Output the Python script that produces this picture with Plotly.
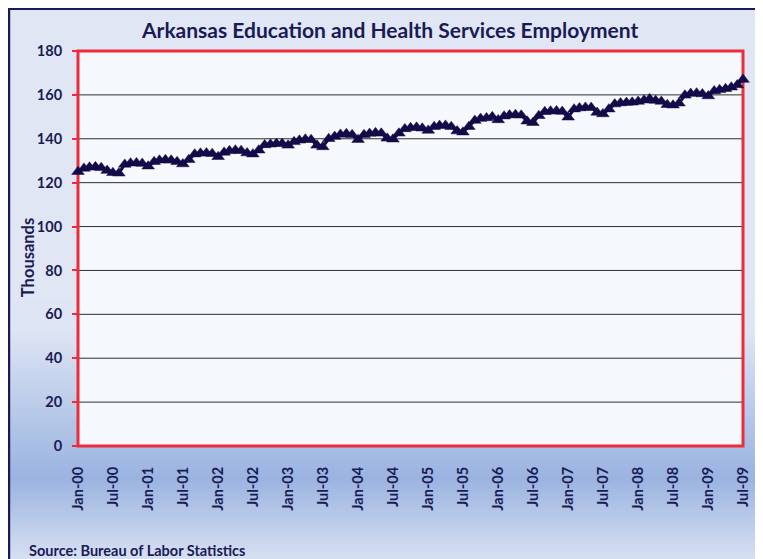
import plotly.graph_objects as go
import pandas as pd

# ---------------- data ----------------
emp_2000 = [125.0, 126.5, 127.0, 127.2, 126.8, 125.5, 124.5, 124.3, 128.3, 128.9, 129.0, 128.7]
emp_2001 = [127.5, 129.5, 130.2, 130.4, 130.2, 129.5, 128.5, 130.5, 133.0, 133.4, 133.5, 133.2]
emp_2002 = [131.8, 133.8, 134.5, 134.8, 134.6, 133.5, 133.0, 134.8, 137.2, 137.5, 137.8, 137.8]
emp_2003 = [137.0, 138.6, 139.3, 139.8, 139.6, 137.0, 136.3, 140.0, 141.0, 142.0, 142.3, 141.8]
emp_2004 = [139.6, 141.8, 142.4, 142.7, 142.5, 140.2, 139.8, 142.5, 144.5, 145.0, 145.2, 144.8]
emp_2005 = [143.8, 145.5, 146.0, 146.1, 145.5, 143.5, 143.0, 145.5, 148.3, 149.2, 149.5, 150.0]
emp_2006 = [148.6, 150.3, 150.8, 151.0, 150.7, 148.0, 147.3, 150.5, 152.3, 152.6, 152.7, 152.4]
emp_2007 = [149.8, 153.5, 154.0, 154.3, 154.2, 152.0, 151.3, 153.5, 155.8, 156.3, 156.5, 156.6]
emp_2008 = [157.0, 157.6, 158.2, 157.4, 157.0, 155.5, 155.3, 156.2, 159.8, 160.6, 160.8, 160.4]
emp_2009 = [159.5, 161.8, 162.3, 162.8, 163.5, 164.5, 167.0]

employment = (emp_2000 + emp_2001 + emp_2002 + emp_2003 + emp_2004 +
              emp_2005 + emp_2006 + emp_2007 + emp_2008 + emp_2009)
months = pd.date_range("2000-01-01", periods=len(employment), freq="MS")

y_ticks = [0, 20, 40, 60, 80, 100, 120, 140, 160, 180]

title_text = "Arkansas Education and Health Services Employment"
y_title = "Thousands"
source_text = "Source: Bureau of Labor Statistics"

# ---------------- layout geometry ----------------
OFF = 8                      # page body margin in the browser
W, H = 763 - OFF, 559 - OFF  # figure size
# plot area in reference-page pixels
RL, RR, RT, RB = 78, 745, 51, 446
L, R, T, B = RL - OFF, RR - OFF, RT - OFF, RB - OFF


def px(x):
    """reference page x pixel -> paper coordinate"""
    return (x - OFF - L) / (R - L)


def py(y):
    """reference page y pixel -> paper coordinate"""
    return (B - (y - OFF)) / (B - T)


def hex2rgb(h):
    h = h.lstrip("#")
    return tuple(int(h[i:i + 2], 16) for i in (0, 2, 4))


def lerp(c1, c2, t):
    a, b = hex2rgb(c1), hex2rgb(c2)
    return "rgb(%d,%d,%d)" % tuple(round(a[i] + (b[i] - a[i]) * t) for i in range(3))


stops = [(0, "#e0e6f4"), (330, "#dee5f4"), (478, "#9ab3e0"), (559, "#d6e0f2")]


def grad(y):
    for (y0, c0), (y1, c1) in zip(stops[:-1], stops[1:]):
        if y0 <= y <= y1:
            return lerp(c0, c1, (y - y0) / (y1 - y0))
    return stops[-1][1]


red = "#ee2b3b"
navy = "#1a1a55"
line_navy = "#120b48"
font_family = "Lato, 'Liberation Sans', sans-serif"

shapes = []
step = 3
for y in range(300, 559 + step, step):
    shapes.append(dict(type="rect", xref="paper", yref="paper",
                       x0=px(0), x1=px(800), y0=py(y), y1=py(y + step + 0.5),
                       fillcolor=grad(y + step / 2), line=dict(width=0), layer="below"))
# plot area fill
shapes.append(dict(type="rect", xref="paper", yref="paper", x0=0, x1=1, y0=0, y1=1,
                   fillcolor="#f5f8fc", line=dict(width=0), layer="below"))
# horizontal gridlines (drawn below the series)
for v in y_ticks[1:-1]:
    shapes.append(dict(type="line", xref="paper", yref="y", x0=0, x1=1, y0=v, y1=v,
                       line=dict(color="#2e2e2e", width=1), layer="below"))
# red plot border
shapes.append(dict(type="rect", xref="paper", yref="paper", x0=0, x1=1, y0=0, y1=1,
                   fillcolor="rgba(0,0,0,0)", line=dict(color=red, width=3), layer="below"))
# outer navy frame
shapes.append(dict(type="rect", xref="paper", yref="paper",
                   x0=px(8.5), x1=px(820), y0=py(8.5), y1=py(620),
                   fillcolor="rgba(0,0,0,0)", line=dict(color="#1c1a55", width=3), layer="above"))

fig = go.Figure()
fig.add_trace(go.Scatter(
    x=months, y=employment, mode="lines+markers",
    line=dict(color=line_navy, width=3),
    marker=dict(symbol="triangle-up", size=11, color=line_navy,
                line=dict(color=line_navy, width=0.5)),
    cliponaxis=False, showlegend=False, hoverinfo="x+y"))

fig.update_layout(
    width=W, height=H,
    margin=dict(l=L, r=W - R, t=T, b=H - B, pad=0),
    paper_bgcolor="#e0e6f4", plot_bgcolor="rgba(0,0,0,0)",
    shapes=shapes,
    showlegend=False,
    annotations=[
        dict(text="<b>%s</b>" % title_text, xref="paper", yref="paper",
             x=px(390), y=py(30), xanchor="center", yanchor="middle", showarrow=False,
             font=dict(family=font_family, size=21, color=navy)),
        dict(text="<b>%s</b>" % y_title, xref="paper", yref="paper",
             x=px(28), y=py(258), xanchor="center", yanchor="middle", showarrow=False,
             textangle=-90, font=dict(family=font_family, size=16.5, color=navy)),
        dict(text="<b>%s</b>" % source_text, xref="paper", yref="paper",
             x=px(27), y=py(550), xanchor="left", yanchor="middle", showarrow=False,
             font=dict(family=font_family, size=14.5, color=navy)),
    ],
)

fig.update_xaxes(
    type="date", range=[months[0], months[-1]],
    tick0="2000-01-01", dtick="M6", tickformat="%b-%y", tickangle=-90,
    showgrid=False, zeroline=False, showline=False, ticks="",
    ticklabelstandoff=17,
    tickfont=dict(family=font_family, size=14.5, color=navy, weight="bold"),
)
fig.update_yaxes(
    range=[0, 180], tickvals=y_ticks, showgrid=False,
    zeroline=False, showline=False, ticks="outside", ticklen=5, tickwidth=2,
    tickcolor=red, ticklabelstandoff=7,
    tickfont=dict(family=font_family, size=14.5, color=navy, weight="bold"),
)

fig.write_html("out.html")
